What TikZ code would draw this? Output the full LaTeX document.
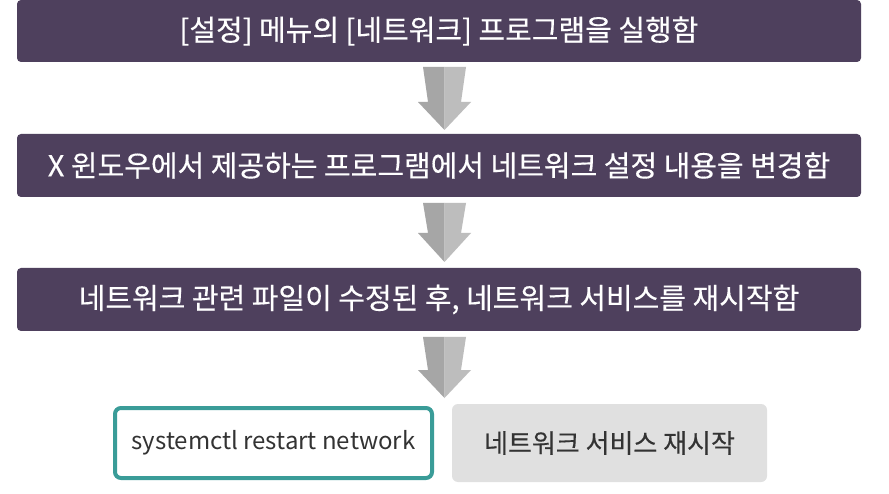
\documentclass[tikz,border=0pt]{standalone}
\usepackage{fontspec}
\setmainfont{Noto Sans CJK KR}
\newfontfamily\medfont{Noto Sans CJK KR}[FakeBold=0.35]
\usetikzlibrary{calc}
\definecolor{boxpurple}{HTML}{4E405D}
\definecolor{tealline}{HTML}{3A9C98}
\definecolor{grayfill}{HTML}{E0E0E0}
\definecolor{graytext}{HTML}{333333}
\definecolor{arrowdark}{HTML}{A6A6A6}
\definecolor{arrowlight}{HTML}{BDBDBD}
\tikzset{
  purplebox/.style={fill=boxpurple, rounded corners=4pt, text=white,
    minimum width=844pt, minimum height=63pt, inner sep=0pt,
    font=\medfont\fontsize{29}{34}\selectfont},
  cmdbox/.style={draw=tealline, line width=4pt, fill=white, rounded corners=6pt,
    minimum width=317pt, minimum height=70pt, inner sep=0pt, text=graytext,
    font=\fontsize{24}{28}\selectfont},
  graybox/.style={fill=grayfill, rounded corners=6pt,
    minimum width=315pt, minimum height=78pt, inner sep=0pt, text=graytext,
    font=\medfont\fontsize{26}{30}\selectfont},
}
\newcommand\blockarrow[3]{%
  \fill[arrowdark] (423,#1) -- (444.5,#1) -- (444.5,#3) -- (418,#2) -- (428,#2) -- cycle;
  \fill[arrowlight] (444.5,#1) -- (466,#1) -- (461,#2) -- (471,#2) -- (444.5,#3) -- cycle;
}
\begin{document}
\begin{tikzpicture}[x=1pt,y=-1pt]
\useasboundingbox (0,0) rectangle (889,494);
\fill[white] (0,0) rectangle (889,494);
\node[purplebox, minimum height=62pt] (b1) at (439,31) {[설정] 메뉴의 [네트워크] 프로그램을 실행함};
\node[purplebox] (b2) at (439,165.5) {X 윈도우에서 제공하는 프로그램에서 네트워크 설정 내용을 변경함};
\node[purplebox] (b3) at (439,299.5) {네트워크 관련 파일이 수정된 후, 네트워크 서비스를 재시작함};
\node[cmdbox] (c1) at (273.5,443) {systemctl restart network};
\node[graybox] (c2) at (609.5,443) {네트워크 서비스 재시작};
\blockarrow{67}{102}{130}
\blockarrow{203}{233}{262}
\blockarrow{337}{370}{398}
\end{tikzpicture}
\end{document}
